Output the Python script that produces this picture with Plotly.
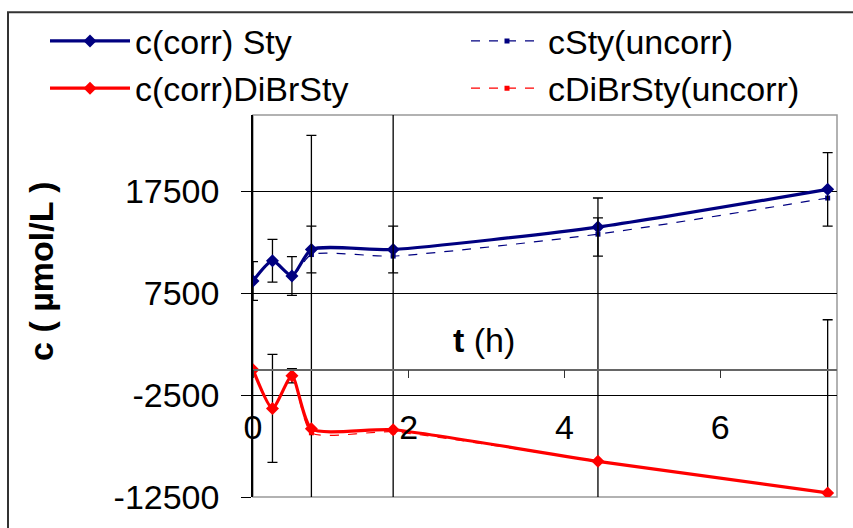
import plotly.graph_objects as go

# Sampling times (h)
t_hours = [0, 0.25, 0.5, 0.75, 1.8, 4.43, 7.38]

# Styrene concentration (µmol/L), corrected and uncorrected
sty_corr = [8700, 10700, 9200, 11800, 11800, 14000, 17700]
sty_corr_err = [1900, 2100, 1900, 2300, 2300, 2850, 3600]
sty_uncorr = [8700, 10700, 9200, 11300, 11150, 13300, 16850]

# Dibromostyrene concentration (µmol/L), corrected and uncorrected
dibr_corr = [0, -3800, -600, -5800, -5900, -9000, -12100]
dibr_corr_err = [0, 5300, 700, 28800, 32000, 23900, 17000]
dibr_uncorr = [0, -3800, -600, -6200, -6100, -9000, -12100]

y_ticks = [-12500, -2500, 7500, 17500]
x_ticks = [0, 2, 4, 6]

NAVY = "#000080"
RED = "#FF0000"
FONT = "Arial, Liberation Sans, sans-serif"

W, H = 853, 528
L, R, T, B = 253, 16, 114, 27
PW, PH = W - L - R, H - T - B


def px_x(px):
    return (px - L) / PW


def px_y(py):
    return (H - B - py) / PH


fig = go.Figure()

err_style = dict(type="data", color="black", thickness=1.3, width=5)
SMOOTH = 0.6

# uncorrected series first so the corrected curves sit on top
fig.add_trace(go.Scatter(
    x=t_hours, y=sty_uncorr, name="cSty(uncorr)", mode="lines+markers",
    line=dict(color=NAVY, width=1.2, dash="dash", shape="spline", smoothing=SMOOTH),
    marker=dict(symbol="square", size=5, color=NAVY),
    legend="legend2", legendrank=1))
fig.add_trace(go.Scatter(
    x=t_hours, y=dibr_uncorr, name="cDiBrSty(uncorr)", mode="lines+markers",
    line=dict(color=RED, width=1.2, dash="dash", shape="spline", smoothing=SMOOTH),
    marker=dict(symbol="square", size=5, color=RED),
    legend="legend2", legendrank=2))
fig.add_trace(go.Scatter(
    x=t_hours, y=sty_corr, name="c(corr) Sty", mode="lines+markers",
    line=dict(color=NAVY, width=3.2, shape="spline", smoothing=SMOOTH),
    marker=dict(symbol="diamond", size=10, color=NAVY),
    error_y=dict(array=sty_corr_err, **err_style),
    legend="legend", legendrank=1))
fig.add_trace(go.Scatter(
    x=t_hours, y=dibr_corr, name="c(corr)DiBrSty", mode="lines+markers",
    line=dict(color=RED, width=3.2, shape="spline", smoothing=SMOOTH),
    marker=dict(symbol="diamond", size=10, color=RED),
    error_y=dict(array=dibr_corr_err, **err_style),
    legend="legend", legendrank=2))

legend_common = dict(
    orientation="v", xanchor="left", yanchor="top", y=px_y(10),
    font=dict(size=34), bgcolor="rgba(0,0,0,0)",
    traceorder="normal", tracegroupgap=0,
)

fig.update_layout(
    width=W, height=H,
    margin=dict(l=L, r=R, t=T, b=B),
    paper_bgcolor="white", plot_bgcolor="white",
    font=dict(family=FONT, size=34, color="black"),
    showlegend=True,
    legend=dict(x=px_x(45), itemwidth=80, **legend_common),
    legend2=dict(x=px_x(466), itemwidth=72, **legend_common),
    xaxis=dict(
        range=[0, 7.5], anchor="free", position=1 / 3,
        showgrid=False, zeroline=False,
        showline=True, linecolor="#666666", linewidth=1.5,
        ticks="outside", ticklen=8, tickcolor="#333333", tickwidth=1.3,
        tickvals=x_ticks, ticktext=[str(v) for v in x_ticks],
        ticklabelstandoff=20, tickfont=dict(size=34),
    ),
    yaxis=dict(
        range=[-12500, 25000],
        tickvals=y_ticks, ticktext=[str(v) for v in y_ticks],
        showgrid=True, gridcolor="black", gridwidth=1.3,
        zeroline=False,
        showline=True, linecolor="black", linewidth=1.5,
        ticks="outside", ticklen=10, tickcolor="black", tickwidth=1.3,
        ticklabelstandoff=15, tickfont=dict(size=34),
    ),
)

# plot-area frame and outer chart border
fig.add_shape(type="rect", xref="paper", yref="paper", x0=0, x1=1, y0=0, y1=1,
              line=dict(color="#999999", width=1.5), layer="below")
fig.add_shape(type="rect", xref="paper", yref="paper",
              x0=px_x(8), x1=px_x(950), y0=px_y(600), y1=px_y(10),
              line=dict(color="#333333", width=2))

# axis titles
fig.add_annotation(text="<b>c ( µmol/L )</b>", xref="paper", yref="paper",
                   x=px_x(41), y=px_y(272), textangle=-90, showarrow=False,
                   font=dict(size=34), xanchor="center", yanchor="middle")
fig.add_annotation(text="<b>t</b> (h)", xref="paper", yref="paper",
                   x=px_x(484), y=px_y(342), showarrow=False,
                   font=dict(size=34), xanchor="center", yanchor="middle")

fig.write_html("out.html")
